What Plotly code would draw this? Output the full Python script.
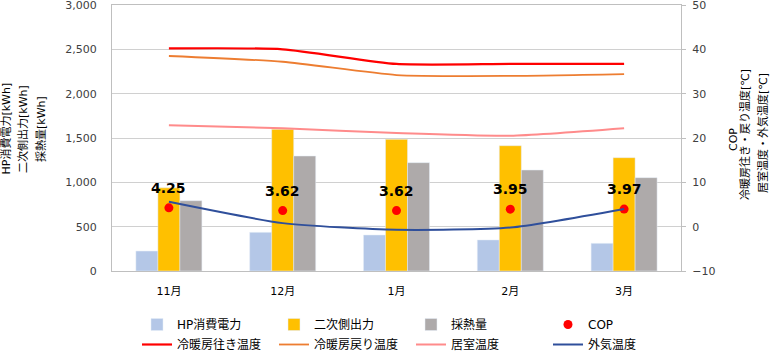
import plotly.graph_objects as go

months = ["11月", "12月", "1月", "2月", "3月"]
hp_power = [225, 436, 406, 350, 312]
secondary_out = [938, 1598, 1485, 1413, 1278]
heat_extract = [793, 1297, 1222, 1139, 1053]
cop = [4.25, 3.62, 3.62, 3.95, 3.97]
supply_temp = [40.2, 40.0, 36.7, 36.7, 36.7]
return_temp = [38.5, 37.2, 34.2, 34.0, 34.4]
room_temp = [22.9, 22.2, 21.1, 20.5, 22.2]
outdoor_temp = [5.6, 0.8, -0.7, -0.2, 4.0]

W, H = 770, 351
L, R, T, B = 112, 89, 5, 80
PW, PH = W - L - R, H - T - B

def px(x):
    return (x - L) / PW

def py(y):
    return (H - B - y) / PH

FONT = "DejaVu Sans, Noto Sans CJK JP, sans-serif"

fig = go.Figure()
fig.add_bar(x=months, y=hp_power, name="HP消費電力", marker_color="#B4C7E7", legend="legend")
fig.add_bar(x=months, y=secondary_out, name="二次側出力", marker_color="#FFC000", legend="legend")
fig.add_bar(x=months, y=heat_extract, name="採熱量", marker_color="#AEAAAA", legend="legend")
fig.add_scatter(x=months, y=cop, name="COP", mode="markers", yaxis="y2",
                marker=dict(color="#FF0000", size=9), legend="legend")

line_specs = [
    ("冷暖房往き温度", supply_temp, "#FF0000", 2.2),
    ("冷暖房戻り温度", return_temp, "#ED7D31", 1.8),
    ("居室温度", room_temp, "#FF8B8B", 2.0),
    ("外気温度", outdoor_temp, "#2F4F9B", 2.0),
]
for name, vals, col, w in line_specs:
    fig.add_scatter(x=months, y=vals, name=name, mode="lines", yaxis="y2",
                    line=dict(color=col, width=w, shape="spline", smoothing=0.6),
                    legend="legend2")

# COP data labels
for m, v in zip(months, cop):
    fig.add_annotation(x=m, y=v, xref="x", yref="y2", text=f"<b>{v:.2f}</b>",
                       showarrow=False, yshift=20,
                       font=dict(family=FONT, size=14, color="#000000"))

# Axis titles
left_titles = [("HP消費電力[kWh]", 5.5), ("二次側出力[kWh]", 23), ("採熱量[kWh]", 41)]
for t, x in left_titles:
    fig.add_annotation(x=px(x), y=py(129), xref="paper", yref="paper", text=t,
                       textangle=-90, showarrow=False, xanchor="center", yanchor="middle",
                       font=dict(family=FONT, size=11, color="#000000"))
right_titles = [("COP", 733, 140), ("冷暖房往き・戻り温度[℃]", 745, 135), ("居室温度・外気温度[℃]", 763, 133)]
for t, x, y in right_titles:
    fig.add_annotation(x=px(x), y=py(y), xref="paper", yref="paper", text=t,
                       textangle=-90, showarrow=False, xanchor="center", yanchor="middle",
                       font=dict(family=FONT, size=11, color="#000000"))

fig.update_layout(
    width=W, height=H,
    margin=dict(l=L, r=R, t=T, b=B, autoexpand=False),
    paper_bgcolor="white", plot_bgcolor="white",
    font=dict(family=FONT, size=11, color="#404040"),
    barmode="group", bargap=0.42, bargroupgap=0,
    xaxis=dict(showline=True, linecolor="#BFBFBF", linewidth=1, mirror=True,
               showgrid=False, ticks="", ticklabelstandoff=10, automargin=False,
               tickfont=dict(size=11, color="#000000")),
    yaxis=dict(range=[0, 3000], dtick=500, tickformat=",", showline=True,
               linecolor="#BFBFBF", showgrid=True, gridcolor="#D0D0D0", gridwidth=1,
               zeroline=False, ticks="", ticklabelstandoff=12, automargin=False,
               ticklabeloverflow="allow",
               tickfont=dict(size=11, color="#404040")),
    yaxis2=dict(range=[-10, 50], dtick=10, overlaying="y", side="right",
                showline=True, linecolor="#BFBFBF", showgrid=False, zeroline=False,
                ticks="outside", ticklen=4, tickcolor="#BFBFBF", ticklabelstandoff=4,
                automargin=False, ticklabeloverflow="allow",
                tickfont=dict(size=11, color="#404040")),
    legend=dict(orientation="h", x=px(137), y=py(310), xanchor="left", yanchor="top",
                entrywidth=92, entrywidthmode="pixels", bgcolor="rgba(0,0,0,0)",
                font=dict(family=FONT, size=12, color="#000000"), traceorder="normal"),
    legend2=dict(orientation="h", x=px(137), y=py(330), xanchor="left", yanchor="top",
                 entrywidth=92, entrywidthmode="pixels", bgcolor="rgba(0,0,0,0)",
                 font=dict(family=FONT, size=12, color="#000000"), traceorder="normal"),
)

fig.write_html("out.html")
